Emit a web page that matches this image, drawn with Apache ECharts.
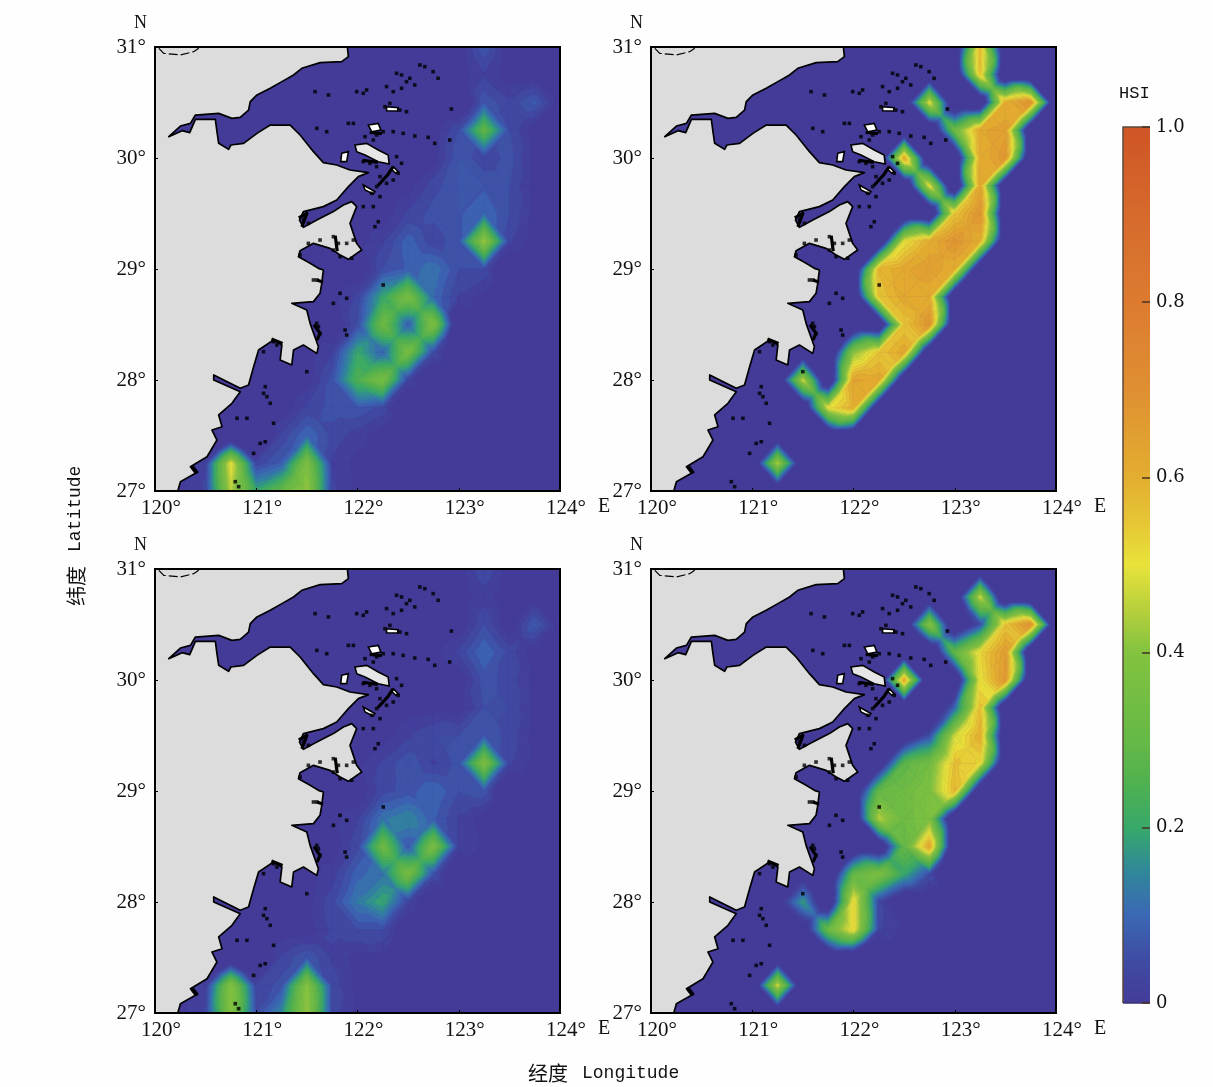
<!DOCTYPE html>
<html><head><meta charset="utf-8">
<style>html,body{margin:0;padding:0;background:#fefefe}#c{width:1213px;height:1087px;filter:blur(0.4px)}</style>
<script src="https://cdn.jsdelivr.net/npm/echarts@6/dist/echarts.min.js"></script>
</head><body><div id="c"></div>
<script>
// Grid nodes of the HSI fields: 0.25 degree steps
const LONS=[120,120.25,120.5,120.75,121,121.25,121.5,121.75,122,122.25,122.5,122.75,123,123.25,123.5,123.75,124];
const LATS=[31,30.75,30.5,30.25,30,29.75,29.5,29.25,29,28.75,28.5,28.25,28,27.75,27.5,27.25,27];
const AMM_SPRING=[
[0,0,0,0,0,0,0,0,0,0,0,0,0,.07,0,0,0],
[0,0,0,0,0,0,0,0,0,0,0,0,0,.02,0,0,0],
[0,0,0,0,0,0,0,0,0,0,0,0,0,.07,.03,.08,0],
[0,0,0,0,0,0,0,0,0,0,0,0,.05,.3,.05,0,0],
[0,0,0,0,0,0,0,0,0,0,0,0,.07,.03,.06,0,0],
[0,0,0,0,0,0,0,0,0,0,0,.04,.07,.07,.05,0,0],
[0,0,0,0,0,0,0,0,0,0,.03,.06,.07,.1,.05,0,0],
[0,0,0,0,0,0,0,0,0,.02,.09,.03,.07,.43,.03,0,0],
[0,0,0,0,0,0,0,0,0,.05,.08,.12,.05,.05,0,0,0],
[0,0,0,0,0,0,0,0,.03,.2,.36,.1,.02,0,0,0,0],
[0,0,0,0,0,0,0,0,.05,.33,.08,.38,0,0,0,0,0],
[0,0,0,0,0,0,0,.02,.2,.09,.36,.05,0,0,0,0,0],
[0,0,0,0,0,0,0,.06,.25,.36,.03,0,0,0,0,0,0],
[0,0,0,0,0,0,.03,.06,.07,.04,0,0,0,0,0,0,0],
[0,0,0,0,0,.03,.1,.04,.01,0,0,0,0,0,0,0,0],
[0,0,.02,.5,.03,.08,.38,.02,0,0,0,0,0,0,0,0,0],
[0,0,.03,.45,.2,.3,.42,.03,0,0,0,0,0,0,0,0,0]];
const AMM_SUMMER=[
[0,0,0,0,0,0,0,0,0,0,0,0,0,.57,0,0,0],
[0,0,0,0,0,0,0,0,0,0,0,0,0,.55,0,0,0],
[0,0,0,0,0,0,0,0,0,0,0,.5,0,0,.6,.68,0],
[0,0,0,0,0,0,0,0,0,0,0,0,.33,.62,.64,0,0],
[0,0,0,0,0,0,0,0,0,0,.62,0,0,.6,.67,0,0],
[0,0,0,0,0,0,0,0,0,0,0,.5,0,.62,0,0,0],
[0,0,0,0,0,0,0,0,0,0,0,0,.55,.68,0,0,0],
[0,0,0,0,0,0,0,0,0,0,.5,.6,.68,.6,0,0,0],
[0,0,0,0,0,0,0,0,0,.58,.62,.65,.6,0,0,0,0],
[0,0,0,0,0,0,0,0,0,.55,.62,.6,0,0,0,0,0],
[0,0,0,0,0,0,0,0,0,0,.55,.68,0,0,0,0,0],
[0,0,0,0,0,0,0,0,.4,.55,.62,0,0,0,0,0,0],
[0,0,0,0,0,0,.47,0,.63,.62,0,0,0,0,0,0,0],
[0,0,0,0,0,0,0,.5,.6,0,0,0,0,0,0,0,0],
[0,0,0,0,0,0,0,0,0,0,0,0,0,0,0,0,0],
[0,0,0,0,0,.45,0,0,0,0,0,0,0,0,0,0,0],
[0,0,0,0,0,0,0,0,0,0,0,0,0,0,0,0,0]];
const GMM_SPRING=[
[0,0,0,0,0,0,0,0,0,0,0,0,0,.05,0,0,0],
[0,0,0,0,0,0,0,0,0,0,0,0,0,.01,0,0,0],
[0,0,0,0,0,0,0,0,0,0,0,0,0,.05,0,.08,0],
[0,0,0,0,0,0,0,0,0,0,0,0,.03,.1,.04,0,0],
[0,0,0,0,0,0,0,0,0,0,0,0,0,.06,.04,0,0],
[0,0,0,0,0,0,0,0,0,0,0,0,0,.05,.05,0,0],
[0,0,0,0,0,0,0,0,0,0,.02,.05,.05,.07,.04,0,0],
[0,0,0,0,0,0,0,0,0,.03,.07,.02,.06,.38,.03,0,0],
[0,0,0,0,0,0,0,0,0,.04,.06,.1,.05,.07,0,0,0],
[0,0,0,0,0,0,0,0,.02,.12,.15,.08,.02,0,0,0,0],
[0,0,0,0,0,0,0,0,.04,.33,.07,.37,.02,0,0,0,0],
[0,0,0,0,0,0,0,.01,.09,.12,.36,.06,0,0,0,0,0],
[0,0,0,0,0,0,0,.04,.13,.2,.03,0,0,0,0,0,0],
[0,0,0,0,0,0,0,.03,.05,.05,0,0,0,0,0,0,0],
[0,0,0,0,0,.03,.07,.02,0,0,0,0,0,0,0,0,0],
[0,0,.01,.4,.03,.06,.4,.04,0,0,0,0,0,0,0,0,0],
[0,0,.03,.4,.05,.15,.42,.04,0,0,0,0,0,0,0,0,0]];
const GMM_SUMMER=[
[0,0,0,0,0,0,0,0,0,0,0,0,0,0,0,0,0],
[0,0,0,0,0,0,0,0,0,0,0,0,0,.47,0,0,0],
[0,0,0,0,0,0,0,0,0,0,0,.4,0,.05,.55,.68,0],
[0,0,0,0,0,0,0,0,0,0,0,0,.3,.52,.65,0,0],
[0,0,0,0,0,0,0,0,0,0,.62,0,0,.5,.66,0,0],
[0,0,0,0,0,0,0,0,0,0,0,0,.1,.56,0,0,0],
[0,0,0,0,0,0,0,0,0,0,0,.05,.47,.6,0,0,0],
[0,0,0,0,0,0,0,0,0,0,.28,.35,.56,.52,0,0,0],
[0,0,0,0,0,0,0,0,0,.3,.33,.38,.58,0,0,0,0],
[0,0,0,0,0,0,0,0,0,.45,.33,.38,0,0,0,0,0],
[0,0,0,0,0,0,0,0,0,0,.3,.62,0,0,0,0,0],
[0,0,0,0,0,0,0,0,.3,.38,.2,.05,0,0,0,0,0],
[0,0,0,0,0,0,.18,0,.52,.03,0,0,0,0,0,0,0],
[0,0,0,0,0,0,0,.32,.52,.03,0,0,0,0,0,0,0],
[0,0,0,0,0,0,0,0,0,0,0,0,0,0,0,0,0],
[0,0,0,0,0,.48,0,0,0,0,0,0,0,0,0,0,0],
[0,0,0,0,0,0,0,0,0,0,0,0,0,0,0,0,0]];
// Colour scale
const SCALE_VALUES=[0,.05,.1,.15,.2,.25,.3,.4,.45,.5,.55,.6,.7,.8,.9,1];
const SCALE_COLORS=['#443b99','#3f4ca4','#3b68b5','#30879a','#37a96a','#4fb150','#66b946','#82c33f','#b8d03c','#e8e33a','#e6c535','#e3ae30','#df8f32','#dc7b30','#d66a2c','#cf5526'];
const BAND_STEP=0.025;
const EDGE_DROP=0.28; // how steeply the field falls off towards empty nodes
// Mainland coast, lon/lat
const COAST_LON=[121.9,121.91,121.844,121.631,121.45,121.368,121.253,121.138,121.007,120.941,120.924,120.842,120.76,120.629,120.399,120.35,120.251,120.136,120.268,120.343,120.399,120.596,120.612,120.629,120.727,120.75,120.875,121.007,121.138,121.335,121.433,121.565,121.663,121.795,121.926,122.107,122.008,121.91,121.795,121.663,121.466,121.427,121.466,121.598,121.762,121.86,121.943,121.992,121.926,121.992,122.041,121.91,121.828,121.729,121.565,121.433,121.417,121.532,121.614,121.663,121.647,121.63,121.565,121.351,121.499,121.532,121.614,121.598,121.466,121.368,121.351,121.236,121.253,121.171,121.023,120.974,120.924,120.842,120.58,120.58,120.842,120.76,120.629,120.662,120.563,120.612,120.514,120.35,120.399,120.251,120.225,120,120];
const COAST_LAT=[31,30.913,30.868,30.859,30.808,30.748,30.688,30.628,30.568,30.508,30.432,30.366,30.357,30.402,30.387,30.312,30.288,30.192,30.246,30.228,30.348,30.348,30.237,30.132,30.078,30.117,30.132,30.222,30.297,30.297,30.207,30.057,29.958,29.937,29.892,29.868,29.832,29.742,29.622,29.562,29.517,29.441,29.375,29.441,29.517,29.577,29.607,29.562,29.411,29.231,29.171,29.087,29.126,29.186,29.231,29.165,29.111,29.051,29.006,28.991,28.871,28.781,28.706,28.691,28.631,28.51,28.3,28.24,28.315,28.27,28.135,28.18,28.315,28.36,28.27,28.12,27.955,27.925,28.045,28,27.895,27.79,27.685,27.579,27.549,27.459,27.309,27.219,27.159,27.084,27,27,31];
const ISLANDS=[
[[121.975,30.117],[122.09,30.132],[122.205,30.072],[122.303,30.027],[122.313,29.946],[122.205,29.967],[122.074,30.027],[121.992,30.057]],
[[121.844,30.042],[121.91,30.057],[121.893,29.967],[121.834,29.967]],
[[122.107,30.297],[122.205,30.312],[122.231,30.252],[122.14,30.237]],
[[122.287,30.462],[122.402,30.453],[122.395,30.423],[122.287,30.426]],
[[122.057,29.757],[122.172,29.697],[122.156,29.676],[122.074,29.712]],
[[122.353,29.922],[122.402,29.877],[122.379,29.862],[122.336,29.898]]];
const SHOALS=[
[[121.42,29.46],[121.5,29.5],[121.45,29.38]],
[[121.78,29.3],[121.8,29.16]],
[[121.6,28.9],[121.66,28.88]],
[[121.57,28.5],[121.63,28.42],[121.6,28.36]],
[[121.15,28.37],[121.26,28.33]],
[[120.37,27.22],[120.42,27.16]],
[[122.2,29.75],[122.3,29.85],[122.35,29.92]],
[[122.05,29.98],[122.2,29.96]],
[[122.12,30.23],[122.24,30.22]]];
const SPECK_LON=[122.665,122.747,122.796,122.616,122.435,122.484,122.566,122.517,122.386,121.992,122.09,122.057,121.713,121.581,122.287,122.353,122.435,122.32,122.418,122.484,122.271,122.927,121.91,121.598,121.696,121.959,122.254,122.353,122.451,122.566,122.698,122.763,122.911,122.156,122.189,122.074,122.057,122.123,122.189,122.435,122.386,122.402,122.222,122.287,122.189,122.14,122.222,122.353,122.156,122.205,122.172,122.057,121.466,121.515,121.762,121.811,121.893,121.959,121.828,121.943,121.433,121.515,121.63,121.762,121.565,121.598,122.254,121.828,121.893,121.762,121.877,121.893,121.614,121.63,121.598,121.171,121.204,121.072,121.499,121.089,121.105,121.072,121.138,121.171,120.908,120.81,121.039,121.089,120.974,120.793,120.826];
const SPECK_LAT=[30.823,30.778,30.718,30.838,30.748,30.688,30.658,30.718,30.763,30.598,30.613,30.583,30.568,30.598,30.643,30.598,30.628,30.492,30.432,30.417,30.462,30.441,30.312,30.267,30.237,30.312,30.237,30.237,30.222,30.198,30.186,30.132,30.162,30.162,30.207,30.192,29.967,29.952,29.922,29.952,30.012,29.862,29.832,29.772,29.742,29.682,29.652,29.802,29.562,29.426,29.381,29.562,29.441,29.411,29.291,29.231,29.231,29.261,29.111,29.096,29.126,29.231,29.261,29.171,28.901,28.901,28.856,28.781,28.736,28.691,28.45,28.405,28.48,28.42,28.51,28.345,28.315,28.255,28.075,27.94,27.85,27.88,27.79,27.61,27.655,27.655,27.429,27.444,27.339,27.084,27.039];
const BAY_LON=[120.038,120.087,120.251,120.382,120.432];
const BAY_LAT=[30.988,30.943,30.928,30.958,30.988];
const BAR_TICKS={1:'1.0',0.8:'0.8',0.6:'0.6',0.4:'0.4',0.2:'0.2',0:'0'};

function hex(c){return [1,3,5].map(k=>parseInt(c.substr(k,2),16));}
function colorAt(v){
  for(let k=1;k<SCALE_VALUES.length;k++){
    if(v<=SCALE_VALUES[k]){
      const t=(v-SCALE_VALUES[k-1])/(SCALE_VALUES[k]-SCALE_VALUES[k-1]);
      const a=hex(SCALE_COLORS[k-1]),b=hex(SCALE_COLORS[k]);
      return 'rgb('+a.map((x,n)=>Math.round(x+(b[n]-x)*t)).join(',')+')';
    }
  }
  return SCALE_COLORS[SCALE_COLORS.length-1];
}
function clip(poly,lev,keepAbove){
  const out=[];
  for(let k=0;k<poly.length;k++){
    const p=poly[k],q=poly[(k+1)%poly.length];
    const pin=keepAbove?p[2]>=lev:p[2]<=lev,qin=keepAbove?q[2]>=lev:q[2]<=lev;
    if(pin)out.push(p);
    if(pin!==qin){
      const t=(lev-p[2])/(q[2]-p[2]);
      out.push([p[0]+(q[0]-p[0])*t,p[1]+(q[1]-p[1])*t,lev]);
    }
  }
  return out;
}
function bands(tri,api,children){
  const lo=Math.min(tri[0][2],tri[1][2],tri[2][2]),hi=Math.max(tri[0][2],tri[1][2],tri[2][2]);
  if(hi<=0)return;
  if(hi-lo<1e-6){
    const col=colorAt(lo);
    children.push({type:'polygon',shape:{points:tri.map(p=>api.coord([p[0],p[1]]))},style:{fill:col,stroke:col,lineWidth:.6}});
    return;
  }
  for(let b=Math.max(0,Math.floor(lo/BAND_STEP));b*BAND_STEP<hi;b++){
    const l=b*BAND_STEP,h=l+BAND_STEP;
    let poly=clip(tri,l,true);
    if(poly.length)poly=clip(poly,h,false);
    if(poly.length<3)continue;
    const col=colorAt(l+BAND_STEP/2);
    children.push({type:'polygon',shape:{points:poly.map(p=>api.coord([p[0],p[1]]))},style:{fill:col,stroke:col,lineWidth:.6}});
  }
}
// item: sw corner lon, lat, four effective corner values, value at cell centre
function cellItem(params,api){
  const x0=api.value(0),y0=api.value(1),d=0.25;
  const nw=[x0,y0+d,api.value(2)],ne=[x0+d,y0+d,api.value(3)],se=[x0+d,y0,api.value(4)],sw=[x0,y0,api.value(5)];
  const c=[x0+d/2,y0+d/2,api.value(6)];
  const children=[];
  [[nw,ne,c],[ne,se,c],[se,sw,c],[sw,nw,c]].forEach(t=>bands(t,api,children));
  return {type:'group',children};
}
function cells(m){
  const at=(j,i)=>(m[j]&&m[j][i]!==undefined)?m[j][i]:0;
  const eff=(j,i)=>{
    if(at(j,i)>0)return at(j,i);
    let mx=0;
    for(let a=-1;a<=1;a++)for(let b=-1;b<=1;b++)mx=Math.max(mx,at(j+a,i+b));
    return -EDGE_DROP*mx;
  };
  const out=[];
  for(let j=0;j<LATS.length-1;j++)for(let i=0;i<LONS.length-1;i++){
    const raw=[at(j,i),at(j,i+1),at(j+1,i+1),at(j+1,i)];
    if(Math.max(...raw)<=0)continue;
    const v=[eff(j,i),eff(j,i+1),eff(j+1,i+1),eff(j+1,i)];
    const s=raw.slice().sort((a,b)=>b-a);
    const centre=s[1]>0?Math.max((2.6*s[1]+s[2]+s[3])/4.6,s[2]):Math.max(...v.filter((x,n)=>raw[n]===0));
    out.push([LONS[i],LATS[j+1],...v,centre]);
  }
  return out;
}
const serifF='"Liberation Serif"',monoF='"Liberation Mono"',cjk='"Noto Sans CJK SC"';
const PANELS=[
 {m:AMM_SPRING,l:155,t:47,tag:'AMM',cn:'春季',en:'Spring'},
 {m:AMM_SUMMER,l:651,t:47,tag:'AMM',cn:'夏季',en:'Summer'},
 {m:GMM_SPRING,l:155,t:569,tag:'GMM',cn:'春季',en:'Spring'},
 {m:GMM_SUMMER,l:651,t:569,tag:'GMM',cn:'夏季',en:'Summer'}];
const grid=[],xAxis=[],yAxis=[],series=[],graphic=[];
const specks=SPECK_LON.map((x,k)=>[x,SPECK_LAT[k]]);
PANELS.forEach((p,k)=>{
  grid.push({left:p.l,top:p.t,width:405,height:444,show:true,borderColor:'#000',borderWidth:2,backgroundColor:'transparent',z:20});
  xAxis.push({gridIndex:k,type:'value',min:120,max:124,interval:1,z:20,
    axisLine:{onZero:false,lineStyle:{color:'#000',width:2}},axisTick:{inside:true,length:3,lineStyle:{color:'#000'}},splitLine:{show:false},
    axisLabel:{formatter:'{value}°',fontFamily:serifF,fontSize:21,color:'#111',margin:7,padding:[0,0,0,12],hideOverlap:false}});
  yAxis.push({gridIndex:k,type:'value',min:27,max:31,interval:1,z:20,
    axisLine:{onZero:false,lineStyle:{color:'#000',width:2}},axisTick:{inside:true,length:3,lineStyle:{color:'#000'}},splitLine:{show:false},
    axisLabel:{formatter:'{value}°',fontFamily:serifF,fontSize:21,color:'#111',margin:9}});
  series.push({type:'custom',name:'Sea',coordinateSystem:'cartesian2d',xAxisIndex:k,yAxisIndex:k,silent:true,z:1,data:[[120,27]],encode:{x:0,y:1},
    renderItem:(params,api)=>{const a=api.coord([120,31]),b=api.coord([124,27]);
      return {type:'rect',shape:{x:a[0],y:a[1],width:b[0]-a[0],height:b[1]-a[1]},style:{fill:SCALE_COLORS[0]}};}});
  series.push({type:'custom',name:'HSI '+p.tag+' '+p.en,coordinateSystem:'cartesian2d',xAxisIndex:k,yAxisIndex:k,silent:true,clip:true,z:2,
    encode:{x:0,y:1},data:cells(p.m),renderItem:cellItem});
  series.push({type:'custom',name:'Land',coordinateSystem:'cartesian2d',xAxisIndex:k,yAxisIndex:k,silent:true,clip:true,z:3,
    data:[[120,27]],encode:{x:0,y:1},
    renderItem:(params,api)=>({type:'group',children:[
      {type:'polygon',shape:{points:COAST_LON.map((x,n)=>api.coord([x,COAST_LAT[n]]))},style:{fill:'#dcdcdc',stroke:'#000',lineWidth:1.7,lineJoin:'round'}},
      {type:'polyline',shape:{points:BAY_LON.map((x,n)=>api.coord([x,BAY_LAT[n]]))},style:{fill:null,stroke:'#000',lineWidth:1.2,lineDash:[9,3]}},
      ...ISLANDS.map((r,n)=>({type:'polygon',shape:{points:r.map(c=>api.coord(c))},style:{fill:n===0?'#e6e6e6':'#fff',stroke:'#000',lineWidth:1.6}})),
      ...SHOALS.map(r=>({type:'polyline',shape:{points:r.map(c=>api.coord(c))},style:{fill:null,stroke:'#000',lineWidth:3.2,lineJoin:'round'}}))
    ]})});
  series.push({type:'scatter',name:'Islets',xAxisIndex:k,yAxisIndex:k,silent:true,z:4,symbol:'rect',symbolSize:3.6,itemStyle:{color:'#000'},data:specks});
  graphic.push({type:'text',left:p.l+9,top:p.t+19,style:{text:p.tag,font:'18px '+monoF,fill:'#111'}});
  graphic.push({type:'text',left:p.l+37,top:p.t+193,style:{text:p.cn,font:'21px '+cjk,fill:'#111'}});
  graphic.push({type:'text',left:p.l+25,top:p.t+219,style:{text:p.en,font:'18.5px '+monoF,fill:'#111'}});
  graphic.push({type:'text',left:p.l-21,top:p.t-33,style:{text:'N',font:'18px '+serifF,fill:'#111'}});
  graphic.push({type:'text',left:p.l+443,top:p.t+450,style:{text:'E',font:'20px '+serifF,fill:'#111'}});
});
// colour bar, its own value axis
grid.push({left:1123,top:127,width:27,height:876,show:false});
xAxis.push({gridIndex:4,type:'value',min:0,max:1,show:false});
yAxis.push({gridIndex:4,type:'value',min:0,max:1,interval:.2,position:'right',z:20,
  axisLine:{show:false,onZero:false},splitLine:{show:false},axisTick:{inside:true,length:8,lineStyle:{color:'#4a3020',width:1.5}},
  axisLabel:{formatter:v=>BAR_TICKS[Math.round(v*10)/10],fontFamily:'"DejaVu Serif"',fontSize:18,color:'#111',margin:6}});
series.push({type:'custom',name:'Colour bar',coordinateSystem:'cartesian2d',xAxisIndex:4,yAxisIndex:4,silent:true,data:[[0,0]],encode:{x:0,y:1},
  renderItem:(params,api)=>{
    const a=api.coord([0,1]),b=api.coord([1,0]);
    return {type:'group',children:[
      {type:'rect',shape:{x:a[0],y:a[1],width:b[0]-a[0],height:b[1]-a[1]},
       style:{fill:{type:'linear',x:0,y:1,x2:0,y2:0,colorStops:SCALE_VALUES.map((v,n)=>({offset:v,color:SCALE_COLORS[n]}))}}},
      {type:'polyline',shape:{points:[[a[0],b[1]],a,[b[0],a[1]]]},style:{fill:null,stroke:'#5a4a40',lineWidth:1.5}},
      {type:'line',shape:{x1:a[0],y1:b[1],x2:b[0],y2:b[1]},style:{stroke:'#3a3070',lineWidth:1.5}}
    ]};
  }});
graphic.push({type:'text',left:1119,top:85,style:{text:'HSI',font:'17px '+monoF,fill:'#111'}});
graphic.push({type:'text',left:528,top:1063,style:{text:'经度',font:'20px '+cjk,fill:'#111'}});
graphic.push({type:'text',left:582,top:1064,style:{text:'Longitude',font:'18px '+monoF,fill:'#111'}});
graphic.push({type:'text',x:66,y:606,rotation:Math.PI/2,style:{text:'纬度',font:'20px '+cjk,fill:'#111'}});
graphic.push({type:'text',x:66,y:552,rotation:Math.PI/2,style:{text:'Latitude',font:'18px '+monoF,fill:'#111'}});
const chart=echarts.init(document.getElementById('c'),null,{renderer:'canvas'});
chart.setOption({animation:false,backgroundColor:'#fefefe',grid,xAxis,yAxis,series,graphic});
</script></body></html>
